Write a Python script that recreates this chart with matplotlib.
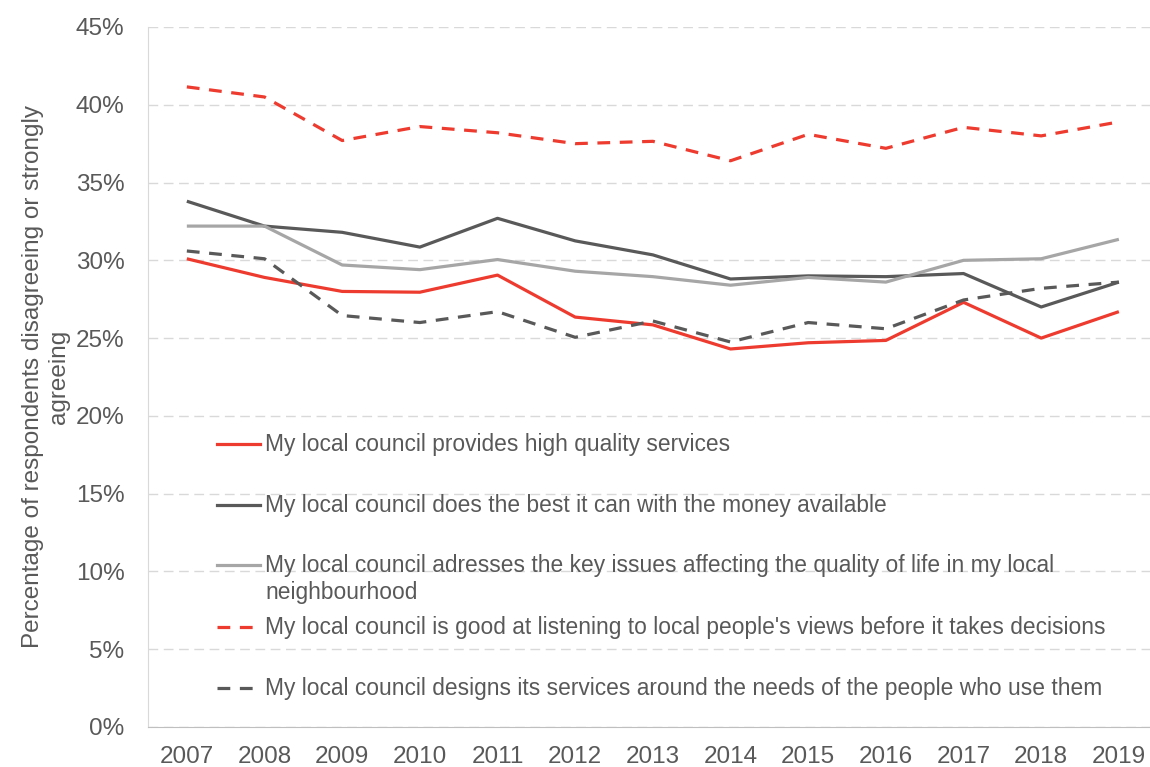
import matplotlib
matplotlib.use("Agg")
import matplotlib.pyplot as plt
from matplotlib.ticker import PercentFormatter

plt.rcParams['font.family'] = ['Liberation Sans', 'DejaVu Sans']

years = ["2007", "2008", "2009", "2010", "2011", "2012", "2013",
         "2014", "2015", "2016", "2017", "2018", "2019"]

high_quality = [30.1, 28.9, 28.0, 27.95, 29.05, 26.35, 25.85, 24.3, 24.7, 24.85, 27.3, 25.0, 26.7]
best_with_money = [33.8, 32.2, 31.8, 30.85, 32.7, 31.25, 30.35, 28.8, 29.0, 28.95, 29.15, 27.0, 28.6]
key_issues = [32.2, 32.2, 29.7, 29.4, 30.05, 29.3, 28.95, 28.4, 28.9, 28.6, 30.0, 30.1, 31.35]
listening = [41.15, 40.5, 37.7, 38.6, 38.2, 37.5, 37.65, 36.4, 38.1, 37.2, 38.55, 38.0, 38.9]
designs = [30.6, 30.1, 26.45, 26.0, 26.7, 25.05, 26.1, 24.75, 26.0, 25.6, 27.45, 28.2, 28.6]

labels = [
    "My local council provides high quality services",
    "My local council does the best it can with the money available",
    "My local council adresses the key issues affecting the quality of life in my local\nneighbourhood",
    "My local council is good at listening to local people's views before it takes decisions",
    "My local council designs its services around the needs of the people who use them",
]

red = "#EE3B2F"
dark = "#595959"
light = "#A6A6A6"
txt = "#595959"

styles = [
    dict(color=red, ls="-"),
    dict(color=dark, ls="-"),
    dict(color=light, ls="-"),
    dict(color=red, ls=(0, (4, 3))),
    dict(color=dark, ls=(0, (4, 3))),
]
series = [high_quality, best_with_money, key_issues, listening, designs]

fig = plt.figure(figsize=(11.5, 7.67), dpi=100)
ax = fig.add_axes([0.1287, 0.0522, 0.878, 0.9126])

x = list(range(len(years)))
for vals, st in zip(series, styles):
    ax.plot(x, vals, lw=2.3, solid_capstyle="butt", dash_capstyle="butt", **st)

ax.set_xlim(-0.5, 12.5)
ax.set_ylim(0, 45)
ax.set_yticks(range(0, 46, 5))
ax.yaxis.set_major_formatter(PercentFormatter(decimals=0))
ax.set_xticks(x)
ax.set_xticklabels(years)
ax.tick_params(length=0, labelsize=17.5, colors=txt)
ax.tick_params(axis="y", pad=17)
ax.tick_params(axis="x", pad=14)
ax.grid(axis="y", color="#D9D9D9", lw=1, ls=(0, (7, 4)))
ax.set_axisbelow(True)
for s in ["top", "right"]:
    ax.spines[s].set_visible(False)
ax.spines["left"].set_color("#D9D9D9")
ax.spines["bottom"].set_color("#BFBFBF")

ax.set_ylabel("Percentage of respondents disagreeing or strongly\nagreeing",
              fontsize=17.5, color=txt, labelpad=4, linespacing=1.25)

# legend drawn by hand so the handle sits on the first text line
leg_y = [444, 505, 565, 627, 688]
for py, st, lab in zip(leg_y, styles, labels):
    ya = (727 - py) / 700
    ax.plot([(217 - 148) / 1009.7, (260 - 148) / 1009.7], [ya, ya],
            transform=ax.transAxes, lw=2.3, dash_capstyle="butt", **st)
    ax.text((265 - 148) / 1009.7, ya + 11 / 700, lab, transform=ax.transAxes,
            fontsize=16.4, color=txt, va="top", ha="left", linespacing=1.2)

fig.savefig("out.png", dpi=100)
